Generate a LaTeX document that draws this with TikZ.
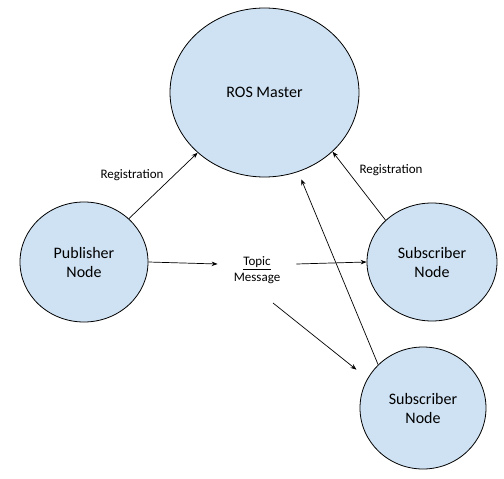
\documentclass[tikz,border=0pt]{standalone}
\usepackage{fontspec}
\setmainfont{Carlito}
\usetikzlibrary{shapes.geometric,arrows.meta}
\definecolor{nodeblue}{RGB}{207,226,243}
\begin{document}
\begin{tikzpicture}[x=1pt,y=-1pt,>={Stealth[length=6pt,width=4.5pt]},
		rosnode/.style={ellipse,draw,fill=nodeblue,line width=0.8pt,align=center,inner sep=0pt,font=\fontsize{16}{19}\selectfont},
		lbl/.style={align=center,font=\fontsize{13}{15.5}\selectfont},
		link/.style={->,line width=0.7pt}]
	\useasboundingbox (0,0) rectangle (504,479);
	\node [rosnode,minimum width=189pt,minimum height=169pt] (ros) at (264.5,92.5) {ROS Master};
	\node [rosnode,minimum width=128pt,minimum height=120pt] (pub) at (84,262) {Publisher\\Node};
	\node [rosnode,minimum width=130pt,minimum height=118pt] (sub1) at (432,262) {Subscriber\\Node};
	\node [rosnode,minimum width=126pt,minimum height=122pt] (sub2) at (423,408) {Subscriber\\Node};
	\node [lbl,inner xsep=16pt,inner ysep=4pt] (msg) at (257,270) {\underline{Topic}\\Message};
	\coordinate (msg-tail) at (273,303);
	\node [lbl] (reg-l) at (132,175) {Registration};
	\node [lbl] (reg-r) at (391,170) {Registration};
	% registration
	\draw [link] (pub.44) -- (ros.222);
	\draw [link] (sub1.138) -- (ros.319);
	\draw [link,shorten >=8pt] (sub2.136) -- (ros.293);
	% topic
	\draw [link] (pub.east) -- ([yshift=6pt]msg.west);
	\draw [link] ([yshift=6pt]msg.east) -- (sub1.west);
	\draw [link,shorten >=14pt] (msg-tail) -- (sub2.152);
\end{tikzpicture}
\end{document}
